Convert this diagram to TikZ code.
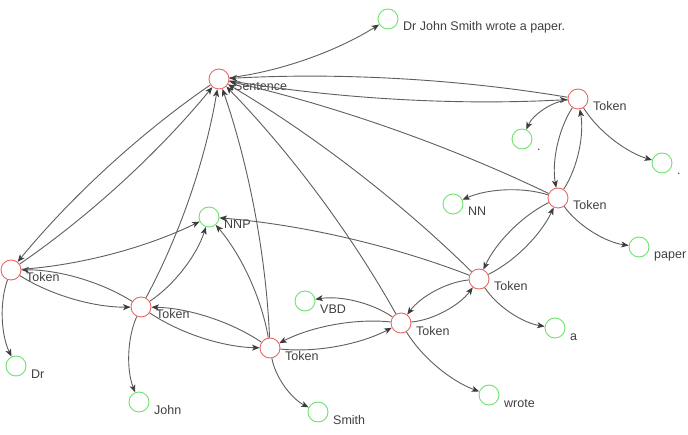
\documentclass[tikz,border=0pt]{standalone}
\usepackage{fontspec}
\setmainfont{Liberation Sans}
\usetikzlibrary{calc,arrows.meta}
\definecolor{vred}{RGB}{234,104,104}
\definecolor{vgreen}{RGB}{112,226,112}
\definecolor{ecol}{RGB}{95,95,95}
\definecolor{acol}{RGB}{60,60,60}
\definecolor{tcol}{RGB}{64,64,64}
\tikzset{
  vr/.style={circle,draw=vred,fill=white,line width=0.9pt,minimum size=20pt,inner sep=0pt},
  vg/.style={circle,draw=vgreen,fill=white,line width=0.9pt,minimum size=20pt,inner sep=0pt},
  vlab/.style={anchor=base west,inner sep=0pt,text=tcol,font=\fontsize{12.5}{14}\selectfont},
  edgeline/.style={draw=ecol,line width=0.9pt,-{Stealth[length=7.5pt,width=6pt,inset=2pt,color=acol]}}
}
% vertex: style, name, x, y (from top), label
\newcommand\vtx[5]{%
  \node[#1] (#2) at (#3,434-#4) {};
  \node[vlab] (#2l) at (#3+15,422-#4) {#5};}
% curved edge bending to the right of its direction
\newcommand\gedge[2]{%
  \coordinate (qq) at ($(#1)!.5!(#2)!20pt!-90:(#2)$);
  \draw[edgeline] (#1) .. controls ($(#1)!2/3!(qq)$) and ($(#2)!2/3!(qq)$) .. (#2);}
\begin{document}
\begin{tikzpicture}[x=1pt,y=1pt]
\fill[white] (0,0) rectangle (688,434);
\useasboundingbox (0,0) rectangle (688,434);
% red vertices
\vtx{vr}{S}{219}{79}{Sentence}
\vtx{vr}{T1}{11}{270}{Token}
\vtx{vr}{T2}{141}{307}{Token}
\vtx{vr}{T3}{270}{348}{Token}
\vtx{vr}{T4}{401}{323}{Token}
\vtx{vr}{T5}{479}{279}{Token}
\vtx{vr}{T6}{558}{198}{Token}
\vtx{vr}{T7}{578}{99}{Token}
% green vertices
\vtx{vg}{Txt}{388}{19}{Dr John Smith wrote a paper.}
\vtx{vg}{NNP}{209}{217}{NNP}
\vtx{vg}{Dr}{16}{366}{Dr}
\vtx{vg}{John}{139}{402}{John}
\vtx{vg}{Smith}{318}{412}{Smith}
\vtx{vg}{VBD}{305}{301}{VBD}
\vtx{vg}{wrote}{489}{395}{wrote}
\vtx{vg}{a}{555}{328}{a}
\vtx{vg}{NN}{453}{204}{NN}
\vtx{vg}{paper}{639}{247}{paper}
\vtx{vg}{dotP}{522}{139}{.}
\vtx{vg}{dotW}{662}{163}{.}
% edges
\gedge{S}{Txt}
\gedge{S}{T7}\gedge{T7}{S}
\gedge{S}{T1}\gedge{T1}{S}
\gedge{T2}{S}\gedge{T3}{S}\gedge{T4}{S}\gedge{T5}{S}\gedge{T6}{S}
\gedge{T1}{T2}\gedge{T2}{T1}
\gedge{T2}{T3}\gedge{T3}{T2}
\gedge{T3}{T4}\gedge{T4}{T3}
\gedge{T4}{T5}\gedge{T5}{T4}
\gedge{T5}{T6}\gedge{T6}{T5}
\gedge{T6}{T7}\gedge{T7}{T6}
\gedge{T1}{NNP}\gedge{T2}{NNP}\gedge{T3}{NNP}\gedge{T5}{NNP}
\gedge{T4}{VBD}\gedge{T6}{NN}\gedge{T7}{dotP}
\gedge{T1}{Dr}\gedge{T2}{John}\gedge{T3}{Smith}\gedge{T4}{wrote}
\gedge{T5}{a}\gedge{T6}{paper}\gedge{T7}{dotW}
\end{tikzpicture}
\end{document}
